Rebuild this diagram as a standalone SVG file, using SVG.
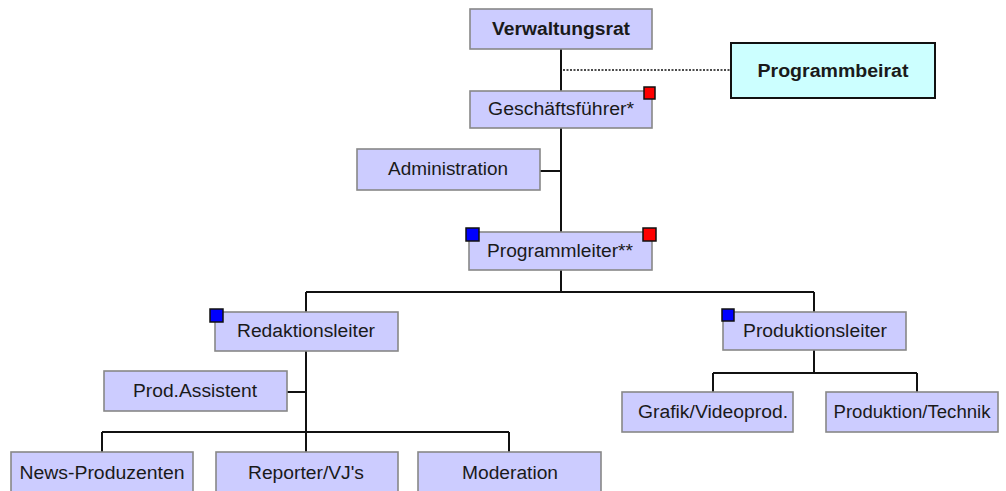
<svg xmlns="http://www.w3.org/2000/svg" width="1006" height="491" viewBox="0 0 1006 491">
<style>
.box{fill:#ccccff;stroke:#888888;stroke-width:1.6}
.beirat{fill:#ccffff;stroke:#111111;stroke-width:2}
.t{font-family:"Liberation Sans",Arial,sans-serif;font-size:18px;fill:#1a1a1a;text-anchor:middle}
.b{font-weight:bold}
.ln{stroke:#111111;stroke-width:2;fill:none}
.dot{stroke:#111111;stroke-width:1.6;stroke-dasharray:2 1.5;fill:none}
.red{fill:#ff0000;stroke:#111111;stroke-width:1.5}
.blue{fill:#0000ff;stroke:#111111;stroke-width:1.5}
</style>
<rect width="1006" height="491" fill="#ffffff"/>
<g id="connectors">
<path class="ln" d="M561 49V91M561 128V232M540 171H561M561 270V292M306 292H814M306 292V312M814 292V312"/>
<path class="ln" d="M306 351V452M287 392H306M102 432H509M102 432V452M509 432V452"/>
<path class="ln" d="M814 350V373M713 373H917M713 373V392M917 373V392"/>
<path class="dot" d="M563 70H731"/>
</g>
<g id="verwaltungsrat"><rect class="box" x="470" y="9" width="182" height="40"/><text class="t b" x="561" y="35" textLength="138" lengthAdjust="spacingAndGlyphs">Verwaltungsrat</text></g>
<g id="programmbeirat"><rect class="beirat" x="731" y="43" width="204" height="55"/><text class="t b" x="833" y="77" textLength="151" lengthAdjust="spacingAndGlyphs">Programmbeirat</text></g>
<g id="geschaeftsfuehrer"><rect class="box" x="470" y="91" width="182" height="37"/><text class="t" x="561" y="115" textLength="146" lengthAdjust="spacingAndGlyphs">Geschäftsführer*</text><rect class="red" x="644" y="87" width="11" height="12"/></g>
<g id="administration"><rect class="box" x="357" y="149" width="183" height="41"/><text class="t" x="448" y="175" textLength="120" lengthAdjust="spacingAndGlyphs">Administration</text></g>
<g id="programmleiter"><rect class="box" x="469" y="232" width="183" height="38"/><text class="t" x="560" y="257" textLength="146" lengthAdjust="spacingAndGlyphs">Programmleiter**</text><rect class="blue" x="466" y="228" width="13" height="13"/><rect class="red" x="643" y="228" width="13" height="13"/></g>
<g id="redaktionsleiter"><rect class="box" x="215" y="312" width="183" height="39"/><text class="t" x="306" y="337" textLength="138" lengthAdjust="spacingAndGlyphs">Redaktionsleiter</text><rect class="blue" x="210" y="309" width="13" height="13"/></g>
<g id="produktionsleiter"><rect class="box" x="723" y="312" width="183" height="38"/><text class="t" x="815" y="337" textLength="144" lengthAdjust="spacingAndGlyphs">Produktionsleiter</text><rect class="blue" x="722" y="309" width="12" height="12"/></g>
<g id="prodassistent"><rect class="box" x="104" y="371" width="183" height="40"/><text class="t" x="195" y="397" textLength="124" lengthAdjust="spacingAndGlyphs">Prod.Assistent</text></g>
<g id="grafik"><rect class="box" x="622" y="392" width="171" height="40"/><text class="t" x="713" y="418" textLength="150" lengthAdjust="spacingAndGlyphs">Grafik/Videoprod.</text></g>
<g id="produktiontechnik"><rect class="box" x="826" y="392" width="172" height="40"/><text class="t" x="912" y="418" textLength="157" lengthAdjust="spacingAndGlyphs">Produktion/Technik</text></g>
<g id="newsproduzenten"><rect class="box" x="11" y="452" width="182" height="46"/><text class="t" x="102" y="479" textLength="165" lengthAdjust="spacingAndGlyphs">News-Produzenten</text></g>
<g id="reporter"><rect class="box" x="216" y="452" width="182" height="46"/><text class="t" x="306" y="479" textLength="116" lengthAdjust="spacingAndGlyphs">Reporter/VJ's</text></g>
<g id="moderation"><rect class="box" x="418" y="452" width="183" height="46"/><text class="t" x="510" y="479" textLength="96" lengthAdjust="spacingAndGlyphs">Moderation</text></g>
</svg>
